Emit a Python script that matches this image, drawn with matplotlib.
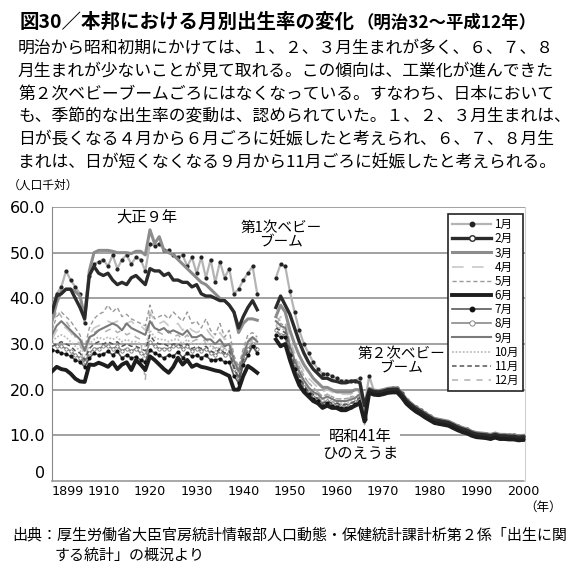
import matplotlib
matplotlib.use('Agg')
import matplotlib.pyplot as plt
from matplotlib.lines import Line2D

plt.rcParams['font.family'] = ['Noto Sans CJK JP', 'DejaVu Sans']

# 月別出生率（人口千対）  戦前 1899-1943 / 戦後 1947-2000
years_pre = list(range(1899, 1944))
years_post = list(range(1947, 2001))
months = ['1月', '2月', '3月', '4月', '5月', '6月', '7月', '8月', '9月', '10月', '11月', '12月']

jan_pre = [38, 41, 42.5, 46, 44, 42.5, 41, 34.5, 45, 47.5, 48, 48.5, 47, 49.5, 46.5, 48.5, 49.5, 47.5, 49, 48.5,
           46, 52, 51.5, 52, 50.5, 50.5, 49.5, 49, 49.5, 47, 49, 45.5, 49, 44.5, 48.5, 43.5, 48, 44.5, 46.5, 41,
           42, 44, 45.5, 47, 41]
feb_pre = [37, 40.5, 41, 42, 42, 40, 38, 35.5, 45, 47, 45.5, 45, 45.5, 44, 43, 43.5, 43, 44.5, 45, 44,
           43, 46.5, 46, 46, 45, 45.5, 44, 44, 43.5, 43.5, 42.5, 43, 41, 40.5, 40.5, 40, 39.5, 39.5, 38.5, 37,
           33.5, 36, 38, 39.5, 37.5]
mar_pre = [35, 39, 41.5, 42, 42, 41.5, 40.5, 36, 46, 50, 50.5, 50.5, 50.5, 50.3, 50, 50, 50, 49.8, 50.3, 50.3,
           49.5, 55, 52, 53.5, 50.5, 50, 49.5, 48.5, 47.5, 46.5, 45.5, 44.5, 43.5, 43, 42, 41, 40, 39.5, 38.5, 37,
           32.5, 34.5, 35.5, 35.5, 35.2]
apr_pre = [31, 33, 34, 33.5, 32.5, 31, 30, 27.5, 32, 33.5, 34, 34.5, 35, 34.5, 35, 34, 34.5, 35, 34, 34,
           33, 37, 35, 34.5, 35, 34, 34, 34.5, 33, 34, 33, 32.5, 33, 33.5, 32, 31, 32.5, 31, 31.5, 27,
           24.5, 28.5, 31, 31.5, 31]
may_pre = [33, 36, 37, 36, 35, 33.5, 32, 29, 33.5, 35.5, 36.5, 37, 38.5, 37, 38, 36, 36.5, 35.5, 35, 34.5,
           34, 38.5, 35.5, 36, 36.5, 35.5, 37, 36, 35, 37, 34.5, 35, 33.5, 35.5, 33, 32, 34.5, 31.5, 33, 27.5,
           25, 29, 32, 32.5, 31.5]
jun_pre = [24, 25, 24.5, 24.3, 23.5, 22.4, 21.8, 21.7, 25.5, 25.4, 25.9, 25.5, 25, 26, 24.5, 25.5, 26, 24.3, 26.5, 25.5,
           24.3, 27.3, 26.5, 25.5, 24.5, 23.7, 25, 27, 25.5, 26.5, 25, 25.5, 25, 24.8, 24.5, 24.2, 24, 23.5, 23, 20,
           20, 23, 25.2, 24.5, 23.7]
jul_pre = [28.7, 28.4, 28, 27.8, 27.3, 26.5, 26.1, 25, 26.9, 28, 27.6, 27.8, 28.4, 27.6, 28.4, 26.9, 27.6, 26.9, 27.2, 26.5,
           26.1, 28.7, 28, 27.5, 26.9, 27.6, 27.3, 28.3, 27, 28, 27.3, 27.5, 27, 27.5, 26.5, 26.5, 26.8, 26, 26, 23,
           21.5, 25.5, 27.5, 29.5, 28]
aug_pre = [30, 29.5, 29.5, 29, 28.5, 27.5, 27, 26, 28, 29, 29, 29.5, 29.5, 29, 29.5, 28.5, 29, 28.5, 29, 28,
           27.5, 30.5, 29.5, 29, 29, 29, 29.5, 29.5, 29, 29.5, 28.5, 29, 28.5, 29, 28, 27.5, 28.5, 27.5, 28, 24.5,
           22.5, 27, 29, 30, 29]
sep_pre = [32, 34, 35, 34, 33, 32, 31, 28.5, 31.5, 32, 33, 33.5, 34, 34.5, 34, 33, 34.5, 33.5, 33, 32.5,
           32, 35, 33.5, 33, 33.5, 32.5, 33, 32.5, 32, 33, 31.5, 31.5, 32, 31, 31, 30, 31, 29.5, 30, 26.5,
           24, 27.5, 30.5, 31.5, 30.5]
oct_pre = [30.5, 31.5, 32, 31.5, 30.5, 29.5, 28.5, 27, 30, 31, 31.5, 31, 31.5, 31, 31.5, 30.5, 31, 30.5, 30.5, 30,
           29.5, 33, 31.5, 31, 31, 30.5, 31, 31, 30, 31, 30, 30, 30, 30.5, 29.5, 28.5, 29.5, 28.5, 29, 25.5,
           23.5, 27, 29.5, 30.5, 30]
nov_pre = [29.5, 30, 30.5, 30, 29.5, 28.5, 28, 26.5, 29, 30, 30.5, 30, 30.5, 30, 30.5, 29.5, 30, 29.5, 29.5, 29,
           28.5, 32, 30.5, 30, 30, 29.5, 30, 30, 29.5, 30, 29, 29.5, 29, 29.5, 28.5, 28, 29, 28, 28.5, 25,
           22.5, 26.5, 28.5, 29.5, 29]
dec_pre = [33, 37.5, 36, 35, 33.5, 31.5, 30, 25, 31, 32.5, 33, 32.5, 33, 33.5, 32.5, 33, 32, 32.5, 31.5, 31,
           22, 36.5, 33, 32.5, 32, 33, 31.5, 32, 31, 32, 30.5, 31, 30.5, 31, 30, 29, 30, 29, 29.5, 25.5,
           22, 26.5, 30, 31, 32]

jan_post = [44.5, 47.5, 47, 41.5, 37, 33, 30, 28, 26, 24.5, 23.5, 23.5, 23, 22.5, 22, 22, 22, 22, 22.5, 16.5,
            23.0, 19.8, 19.7, 19.9, 20.2, 20.3, 20.3, 19.2, 17.8, 16.9, 16.1, 15.5, 14.8, 14.2, 13.6, 13.4, 13.2,
            13.0, 12.5, 12.0, 11.6, 11.3, 10.8, 10.5, 10.4, 10.3, 10.1, 10.4, 10.1, 10.1, 10.0, 10.0, 9.8, 9.9]
feb_post = [38, 40.5, 38.5, 36.5, 33.5, 30.5, 28, 26, 24.5, 23.5, 22.5, 22.5, 22, 21.8, 21.5, 21.5, 21.8, 21.9, 21.5, 16.5,
            20.0, 19.6, 19.5, 19.7, 20.0, 20.1, 20.1, 19.0, 17.6, 16.7, 15.9, 15.3, 14.6, 14.0, 13.4, 13.2, 13.0,
            12.8, 12.3, 11.8, 11.4, 11.1, 10.6, 10.3, 10.2, 10.1, 9.9, 10.2, 9.9, 9.9, 9.8, 9.8, 9.6, 9.7]
mar_post = [36, 38.5, 37, 33, 30, 27.5, 25.5, 24, 22.5, 21.5, 20.5, 20.5, 20, 19.5, 19.5, 19.5, 19.5, 20, 20, 15.5,
            20.3, 19.9, 19.8, 20.0, 20.3, 20.4, 20.4, 19.3, 17.9, 17.0, 16.2, 15.6, 14.9, 14.3, 13.7, 13.5, 13.3,
            13.1, 12.6, 12.1, 11.7, 11.4, 10.9, 10.6, 10.5, 10.4, 10.2, 10.5, 10.2, 10.2, 10.1, 10.1, 9.9, 10.0]
apr_post = [34, 36, 35.5, 31, 28, 26, 24, 22.5, 21.5, 20.5, 19.5, 20, 19.5, 19, 19, 19, 19, 19.5, 19.5, 14.5,
            19.8, 19.4, 19.3, 19.5, 19.8, 19.9, 19.9, 18.8, 17.4, 16.5, 15.7, 15.1, 14.4, 13.8, 13.2, 13.0, 12.8,
            12.6, 12.1, 11.6, 11.2, 10.9, 10.4, 10.1, 10.0, 9.9, 9.7, 10.0, 9.7, 9.7, 9.6, 9.6, 9.4, 9.5]
may_post = [33, 34.5, 34, 29.5, 27, 25, 23, 21.5, 20.5, 19.5, 18.5, 19, 18.5, 18, 18, 18, 18.5, 18.5, 19, 14,
            19.5, 19.1, 19.0, 19.2, 19.5, 19.6, 19.6, 18.5, 17.1, 16.2, 15.4, 14.8, 14.1, 13.5, 12.9, 12.7, 12.5,
            12.3, 11.8, 11.3, 10.9, 10.6, 10.1, 9.8, 9.7, 9.6, 9.4, 9.7, 9.4, 9.4, 9.3, 9.3, 9.1, 9.2]
jun_post = [31, 29.5, 30, 26.5, 23.5, 21, 19.5, 18.5, 17.5, 17, 16, 16.5, 16, 16, 15.5, 15.5, 16, 16.5, 17, 13,
            19.3, 18.9, 18.8, 19.0, 19.3, 19.4, 19.4, 18.3, 16.9, 16.0, 15.2, 14.6, 13.9, 13.3, 12.7, 12.5, 12.3,
            12.1, 11.6, 11.1, 10.7, 10.4, 9.9, 9.6, 9.5, 9.4, 9.2, 9.5, 9.2, 9.2, 9.1, 9.1, 8.9, 9.0]
jul_post = [32, 31.5, 31.5, 27.5, 24.5, 22, 20, 19, 18, 17.5, 16.5, 17, 16.5, 16.3, 16, 16, 16.3, 16.8, 17.5, 13.5,
            19.6, 19.2, 19.1, 19.3, 19.6, 19.7, 19.7, 18.6, 17.2, 16.3, 15.5, 14.9, 14.2, 13.6, 13.0, 12.8, 12.6,
            12.4, 11.9, 11.4, 11.0, 10.7, 10.2, 9.9, 9.8, 9.7, 9.5, 9.8, 9.5, 9.5, 9.4, 9.4, 9.2, 9.3]
aug_post = [33, 32, 32, 28, 25, 22.5, 20.5, 19.5, 18.5, 18, 17, 17.5, 17, 16.8, 16.5, 16.5, 16.8, 17.2, 18, 14,
            19.9, 19.5, 19.4, 19.6, 19.9, 20.0, 20.0, 18.9, 17.5, 16.6, 15.8, 15.2, 14.5, 13.9, 13.3, 13.1, 12.9,
            12.7, 12.2, 11.7, 11.3, 11.0, 10.5, 10.2, 10.1, 10.0, 9.8, 10.1, 9.8, 9.8, 9.7, 9.7, 9.5, 9.6]
sep_post = [35, 34, 33.5, 29.5, 26.5, 24, 22, 20.5, 19.5, 19, 18, 18.5, 18, 17.5, 17.5, 17.5, 17.8, 18.2, 19, 14.5,
            20.1, 19.7, 19.6, 19.8, 20.1, 20.2, 20.2, 19.1, 17.7, 16.8, 16.0, 15.4, 14.7, 14.1, 13.5, 13.3, 13.1,
            12.9, 12.4, 11.9, 11.5, 11.2, 10.7, 10.4, 10.3, 10.2, 10.0, 10.3, 10.0, 10.0, 9.9, 9.9, 9.7, 9.8]
oct_post = [34, 33.5, 33, 29, 26, 23.5, 21.5, 20, 19.5, 18.5, 17.5, 18, 17.5, 17.3, 17, 17, 17.3, 17.8, 18.6, 14,
            20.1, 19.5, 19.6, 19.6, 20.1, 20.0, 20.2, 18.9, 17.7, 16.6, 16.0, 15.2, 14.7, 13.9, 13.5, 13.1, 13.1,
            12.7, 12.4, 11.7, 11.5, 11.0, 10.7, 10.2, 10.3, 10.0, 10.0, 10.1, 10.0, 9.8, 9.9, 9.7, 9.7, 9.6]
nov_post = [33.5, 33, 32.5, 28.5, 25.5, 23, 21, 19.5, 19, 18, 17, 17.5, 17, 17, 16.7, 16.8, 17, 17.5, 18.3, 13.5,
            19.4, 19.0, 18.9, 19.1, 19.4, 19.5, 19.5, 18.4, 17.0, 16.1, 15.3, 14.7, 14.0, 13.4, 12.8, 12.6, 12.4,
            12.2, 11.7, 11.2, 10.8, 10.5, 10.0, 9.7, 9.6, 9.5, 9.3, 9.6, 9.3, 9.3, 9.2, 9.2, 9.0, 9.1]
dec_post = [36, 35, 34.5, 30.5, 27.5, 25, 23, 21.5, 20.5, 19.5, 18.5, 19, 18.5, 18, 18, 18, 18.2, 18.8, 19.8, 12.3,
            19.7, 19.3, 19.2, 19.4, 19.7, 19.8, 19.8, 18.7, 17.3, 16.4, 15.6, 15.0, 14.3, 13.7, 13.1, 12.9, 12.7,
            12.5, 12.0, 11.5, 11.1, 10.8, 10.3, 10.0, 9.9, 9.8, 9.6, 9.9, 9.6, 9.6, 9.5, 9.5, 9.3, 9.4]

pre = [jan_pre, feb_pre, mar_pre, apr_pre, may_pre, jun_pre,
       jul_pre, aug_pre, sep_pre, oct_pre, nov_pre, dec_pre]
post = [jan_post, feb_post, mar_post, apr_post, may_post, jun_post,
        jul_post, aug_post, sep_post, oct_post, nov_post, dec_post]

# 線のスタイル（凡例と同じ）
styles = [
    dict(color='#b4b4b4', lw=1.6, ls='-', marker='o', ms=2.0, mfc='#222222', mec='#222222', zorder=4),
    dict(color='#2b2b2b', lw=2.4, ls='-', zorder=6),
    dict(color='#8c8c8c', lw=2.2, ls='-', zorder=5),
    dict(color='#c8c8c8', lw=1.2, ls=(0, (7, 5)), zorder=2),
    dict(color='#9a9a9a', lw=1.0, ls=(0, (3, 2)), zorder=2),
    dict(color='#1e1e1e', lw=2.8, ls='-', zorder=6),
    dict(color='#5a5a5a', lw=1.2, ls='-', marker='o', ms=2.0, mfc='#111111', mec='#111111', zorder=4),
    dict(color='#8a8a8a', lw=1.2, ls='-', marker='o', ms=2.4, mfc='white', mec='#777777', mew=0.6, zorder=3),
    dict(color='#7a7a7a', lw=1.5, ls='-', zorder=3),
    dict(color='#bdbdbd', lw=1.3, ls=(0, (1, 1)), zorder=2),
    dict(color='#555555', lw=1.1, ls=(0, (3, 2)), zorder=3),
    dict(color='#b0b0b0', lw=1.1, ls=(0, (4, 4)), zorder=2),
]

W, H = 570, 568
fig = plt.figure(figsize=(W / 100, H / 100), dpi=100)
ax = fig.add_axes([52 / W, 1 - 481 / H, 473 / W, 274 / H])


def fx(x):
    return x / W


def fy(y):
    return 1 - y / H


for i in range(12):
    ax.plot(years_pre, pre[i], **styles[i])
    ax.plot(years_post, post[i], **styles[i])

ax.set_xlim(1899, 2000.4)
ax.set_ylim(0, 60)
ax.set_yticks([0, 10, 20, 30, 40, 50, 60])
ax.set_yticklabels(['0', '10.0', '20.0', '30.0', '40.0', '50.0', '60.0'])
ax.set_xticks([1899, 1910, 1920, 1930, 1940, 1950, 1960, 1970, 1980, 1990, 2000])
ax.tick_params(length=0)
ax.tick_params(axis='y', labelsize=11.5, pad=5)
ax.tick_params(axis='x', labelsize=9.2, pad=3)
for lab in ax.get_xticklabels() + ax.get_yticklabels():
    lab.set_family(['DejaVu Sans'])
ax.get_xticklabels()[0].set_ha('left')
ax.get_yticklabels()[0].set_va('bottom')

ax.yaxis.grid(True, color='#9a9a9a', lw=1.3, zorder=0)
ax.get_ygridlines()[0].set_visible(False)
ax.set_axisbelow(True)
ax.spines['top'].set_visible(False)
ax.spines['left'].set_color('#888888')
ax.spines['right'].set_color('#d0d0d0')
ax.spines['bottom'].set_color('#999999')
ax.spines['bottom'].set_linestyle((0, (1, 1)))
ax.spines['bottom'].set_linewidth(1.2)

# 凡例
handles = []
for i, st in enumerate(styles):
    st = {k: v for k, v in st.items() if k != 'zorder'}
    if i == 0 or i == 6:
        st['ms'] = 3.2
    if i == 1:
        st.update(marker='o', ms=4, mfc='white', mec='#2b2b2b', mew=1)
    if i == 7:
        st['ms'] = 3.8
    handles.append(Line2D([], [], **st))
leg = ax.legend(handles, months, loc='upper right', bbox_to_anchor=(0.996, 0.974),
                fontsize=8.4, handlelength=3.4, handletextpad=0.25, labelspacing=0.1,
                borderpad=0.35, borderaxespad=0, fancybox=False, framealpha=1,
                edgecolor='#222222')
leg.get_frame().set_linewidth(1.2)

# 注記
fig.text(fx(147), fy(217), '大正９年', fontsize=11, ha='center', va='center')
fig.text(fx(281), fy(235), '第1次ベビー\nブーム', fontsize=10.5, ha='center', va='center',
         linespacing=1.05)
fig.text(fx(401), fy(361), '第２次ベビー\nブーム', fontsize=10.5, ha='center', va='center',
         linespacing=1.05)
fig.text(fx(360), fy(445), '昭和41年\nひのえうま', fontsize=11, ha='center', va='center',
         linespacing=1.0, bbox=dict(facecolor='white', edgecolor='none', pad=1.5))

# タイトルと本文
fig.text(fx(20), fy(22), '図30／本邦における月別出生率の変化', fontsize=14, fontweight='bold',
         va='center')
fig.text(fx(356), fy(23), '（明治32〜平成12年）', fontsize=12.5, fontweight='bold', va='center')
body = [
    '明治から昭和初期にかけては、１、２、３月生まれが多く、６、７、８',
    '月生まれが少ないことが見て取れる。この傾向は、工業化が進んできた',
    '第２次ベビーブームごろにはなくなっている。すなわち、日本において',
    'も、季節的な出生率の変動は、認められていた。１、２、３月生まれは、',
    '日が長くなる４月から６月ごろに妊娠したと考えられ、６、７、８月生',
    'まれは、日が短くなくなる９月から11月ごろに妊娠したと考えられる。',
]
for k, line in enumerate(body):
    fig.text(fx(18), fy(48 + 23 * k), line, fontsize=12.1, va='center')

fig.text(fx(8), fy(185), '（人口千対）', fontsize=8.5, va='center')
fig.text(fx(562), fy(507), '（年）', fontsize=9, ha='right', va='center')
fig.text(fx(12), fy(535), '出典：厚生労働省大臣官房統計情報部人口動態・保健統計課計析第２係「出生に関',
         fontsize=10.8, va='center')
fig.text(fx(55), fy(556), 'する統計」の概況より', fontsize=10.8, va='center')

fig.savefig('out.png', dpi=100)
